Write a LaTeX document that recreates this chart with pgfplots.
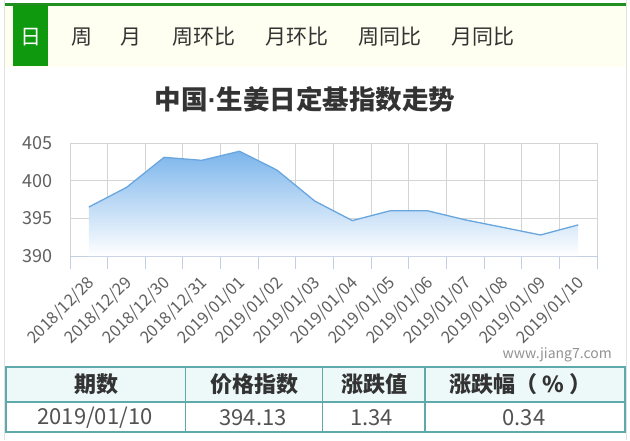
\documentclass[border=0pt]{standalone}
\usepackage{pgfplots}
\pgfplotsset{compat=1.18}
\usepackage{fontspec}
\setmainfont{Noto Sans CJK SC}
\newfontfamily\latinfont{Liberation Sans}
\definecolor{gridcol}{HTML}{D4D4D4}
\definecolor{axiscol}{HTML}{C4D0E2}
\definecolor{labelcol}{HTML}{606060}
\definecolor{titlecol}{HTML}{333333}
\definecolor{greenline}{HTML}{1F8F1F}
\definecolor{greenbox}{HTML}{0E990E}
\definecolor{cream}{HTML}{FEFFF0}
\definecolor{areatop}{HTML}{7CB5EC}
\definecolor{linecol}{HTML}{6AA6DE}
\definecolor{tabborder}{HTML}{5EA9A9}
\definecolor{tabhead}{HTML}{EDF9F9}
\definecolor{outer}{HTML}{E2E2E2}
\begin{document}
\begin{tikzpicture}
\useasboundingbox (0pt,0pt) rectangle (630pt,440pt);
\fill[white] (0pt,0pt) rectangle (630pt,440pt);
% outer borders
\draw[outer, line width=1pt] (4pt,0pt) -- (4pt,440pt);
\draw[outer, line width=1pt] (626.5pt,0pt) -- (626.5pt,440pt);
% tab bar
\fill[cream] (5pt,373pt) rectangle (626pt,434pt);
\fill[greenline] (5pt,434pt) rectangle (626pt,436.7pt);
\fill[greenbox] (12.7pt,374pt) rectangle (48.3pt,434pt);
\begin{scope}[every node/.style={font=\fontsize{21}{21}\selectfont, text=titlecol, inner sep=0pt}]
\node[text=white] at (30.5pt,403pt) {日};
\node at (81.6pt,403pt) {周};
\node at (131pt,403pt) {月};
\node at (204pt,403pt) {周环比};
\node at (297pt,403pt) {月环比};
\node at (390pt,403pt) {周同比};
\node at (483pt,403pt) {月同比};
\end{scope}
% title
\node[font=\bfseries\fontsize{26.5}{26.5}\selectfont, text=titlecol, inner sep=0pt] at (305pt,341pt) {中国{\latinfont\bfseries ·}生姜日定基指数走势};
% chart
\begin{axis}[
  at={(70pt,184pt)}, anchor=south west,
  scale only axis, width=527pt, height=113pt,
  xmin=0, xmax=14, ymin=390, ymax=405,
  axis lines*=left,
  x axis line style={draw=axiscol, line width=1pt},
  y axis line style={draw=none},
  ytick={390,395,400,405},
  xtick={0.5,1.5,...,13.5},
  xticklabels={2018/12/28,2018/12/29,2018/12/30,2018/12/31,2019/01/01,2019/01/02,2019/01/03,2019/01/04,2019/01/05,2019/01/06,2019/01/07,2019/01/08,2019/01/09,2019/01/10},
  minor xtick={0,1,...,14},
  xminorgrids=true, ymajorgrids=true, xmajorgrids=false,
  minor grid style={draw=gridcol, line width=0.9pt},
  major grid style={draw=gridcol, line width=0.9pt},
  tick align=outside,
  major tick length=0pt,
  minor tick length=13pt,
  minor tick style={draw=axiscol, line width=0.9pt},
  /pgf/number format/assume math mode=true,
  yticklabel style={font=\fontsize{18}{18}\selectfont, text=labelcol, xshift=-14pt},
  xticklabel style={font=\fontsize{16.5}{16.5}\selectfont, text=labelcol, inner sep=0pt, xshift=3pt, yshift=-24pt, rotate=45, anchor=east},
  clip=false,
]
\addplot[draw=none, top color=areatop, bottom color=white] coordinates {
(0.5,396.5) (1.5,399.1) (2.5,403.1) (3.5,402.7) (4.5,403.9) (5.5,401.4) (6.5,397.3) (7.5,394.7) (8.5,396.0) (9.5,396.0) (10.5,394.8) (11.5,393.8) (12.5,392.79) (13.5,394.13)
} \closedcycle;
\addplot[linecol, line width=1.3pt, no marks] coordinates {
(0.5,396.5) (1.5,399.1) (2.5,403.1) (3.5,402.7) (4.5,403.9) (5.5,401.4) (6.5,397.3) (7.5,394.7) (8.5,396.0) (9.5,396.0) (10.5,394.8) (11.5,393.8) (12.5,392.79) (13.5,394.13)
};
\end{axis}
% watermark
\node[anchor=east, font=\fontsize{14}{14}\selectfont, text=gray!85, inner sep=0pt] at (612pt,85pt) {www.jiang7.com};
% table
\fill[tabhead] (6pt,38pt) rectangle (625pt,73pt);
\draw[tabborder, line width=1.5pt] (6pt,8pt) rectangle (625pt,73pt);
\draw[tabborder, line width=1.5pt] (6pt,38pt) -- (625pt,38pt);
\draw[tabborder, line width=1.5pt] (185.7pt,8pt) -- (185.7pt,73pt);
\draw[tabborder, line width=1.5pt] (322.3pt,8pt) -- (322.3pt,73pt);
\draw[tabborder, line width=1.5pt] (425pt,8pt) -- (425pt,73pt);
\begin{scope}[every node/.style={font=\bfseries\fontsize{22}{22}\selectfont, text=titlecol, inner sep=0pt}]
\node at (96.7pt,56pt) {期数};
\node at (254pt,56pt) {价格指数};
\node at (374pt,56pt) {涨跌值};
\node at (520.7pt,56pt) {涨跌幅（\hspace{5pt}\%\hspace{5pt}）};
\end{scope}
\begin{scope}[every node/.style={font=\fontsize{22}{22}\selectfont, text=titlecol!85, inner sep=0pt}]
\node at (95pt,22pt) {2019/01/10};
\node at (253pt,22pt) {394.13};
\node at (371.7pt,22pt) {1.34};
\node at (524pt,22pt) {0.34};
\end{scope}
\end{tikzpicture}
\end{document}
